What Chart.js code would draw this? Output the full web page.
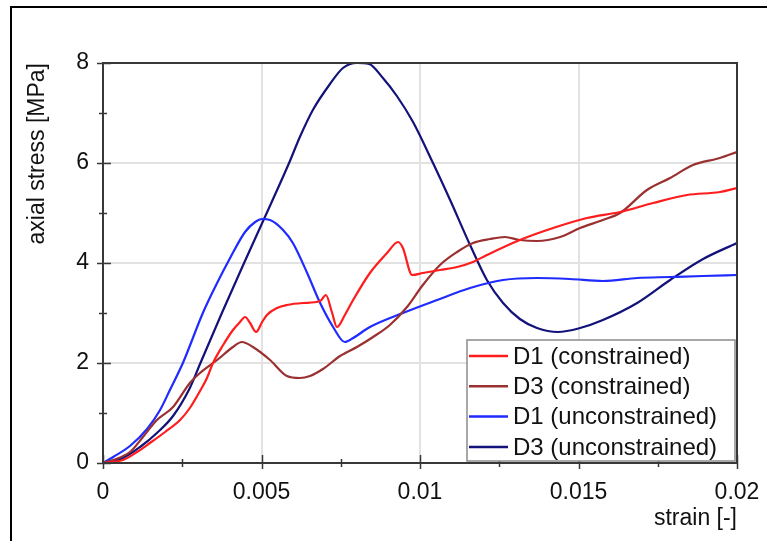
<!DOCTYPE html>
<html>
<head>
<meta charset="utf-8">
<script src="https://cdn.jsdelivr.net/npm/chart.js@4/dist/chart.umd.min.js"></script>
<style>
  html, body { margin: 0; padding: 0; background: #fff; }
  #wrap { position: relative; width: 767px; height: 541px; }
</style>
</head>
<body>
<div id="wrap"><canvas id="c" width="767" height="541"></canvas></div>
<script>
// Axis ticks
const xTicks = [0, 0.005, 0.01, 0.015, 0.02];
const yTicks = [0, 2, 4, 6, 8];

// Series names
const seriesLabels = ['D1 (constrained)', 'D3 (constrained)', 'D1 (unconstrained)', 'D3 (unconstrained)'];

// D1 (constrained): strain [-] / axial stress [MPa]
const d1ConStrain = [0, 0.00063, 0.00107, 0.00148, 0.00196, 0.00243, 0.00274, 0.00306, 0.00328, 0.00347,
  0.00379, 0.00410, 0.00432, 0.00448, 0.00464, 0.00483, 0.00502, 0.00517, 0.00549, 0.00580,
  0.00631, 0.00685, 0.00703, 0.00722, 0.00738, 0.00763, 0.00789, 0.00842, 0.00896, 0.00931,
  0.00946, 0.00975, 0.01009, 0.01063, 0.01117, 0.01167, 0.01211, 0.01315, 0.01420, 0.01527,
  0.01631, 0.01735, 0.01842, 0.01946, 0.02000];
const d1ConStress = [0, 0.06, 0.22, 0.40, 0.62, 0.86, 1.10, 1.44, 1.70, 2.00,
  2.36, 2.66, 2.82, 2.92, 2.80, 2.62, 2.82, 2.96, 3.10, 3.16,
  3.20, 3.24, 3.36, 3.02, 2.72, 2.96, 3.26, 3.80, 4.20, 4.42,
  4.30, 3.76, 3.80, 3.86, 3.92, 4.02, 4.16, 4.46, 4.70, 4.90,
  5.02, 5.20, 5.36, 5.42, 5.50];

// D3 (constrained)
const d3ConStrain = [0, 0.00032, 0.00085, 0.00126, 0.00170, 0.00221, 0.00274, 0.00306, 0.00360, 0.00410,
  0.00438, 0.00473, 0.00527, 0.00580, 0.00621, 0.00653, 0.00694, 0.00748, 0.00801, 0.00852,
  0.00905, 0.00959, 0.01009, 0.01063, 0.01117, 0.01167, 0.01221, 0.01268, 0.01315, 0.01369,
  0.01442, 0.01505, 0.01577, 0.01631, 0.01716, 0.01789, 0.01861, 0.01946, 0.02000];
const d3ConStress = [0, 0.06, 0.22, 0.52, 0.86, 1.12, 1.60, 1.80, 2.06, 2.32,
  2.42, 2.32, 2.06, 1.74, 1.70, 1.74, 1.88, 2.14, 2.32, 2.52,
  2.76, 3.12, 3.56, 3.96, 4.22, 4.40, 4.48, 4.52, 4.46, 4.44,
  4.52, 4.70, 4.86, 5.00, 5.46, 5.70, 5.96, 6.10, 6.22];

// D1 (unconstrained)
const d1UncStrain = [0, 0.00032, 0.00085, 0.00139, 0.00180, 0.00211, 0.00252, 0.00315, 0.00360, 0.00401,
  0.00448, 0.00480, 0.00502, 0.00527, 0.00568, 0.00599, 0.00644, 0.00685, 0.00726, 0.00763,
  0.00789, 0.00842, 0.00946, 0.01054, 0.01158, 0.01262, 0.01369, 0.01473, 0.01577, 0.01685,
  0.01789, 0.01893, 0.02000];
const d1UncStress = [0, 0.12, 0.34, 0.68, 1.06, 1.46, 2.00, 3.00, 3.60, 4.10,
  4.62, 4.82, 4.88, 4.86, 4.66, 4.40, 3.80, 3.20, 2.72, 2.42,
  2.50, 2.72, 3.00, 3.26, 3.50, 3.66, 3.70, 3.68, 3.64, 3.70,
  3.72, 3.74, 3.76];

// D3 (unconstrained)
const d3UncStrain = [0, 0.00063, 0.00117, 0.00170, 0.00221, 0.00274, 0.00306, 0.00375, 0.00445, 0.00505,
  0.00587, 0.00621, 0.00662, 0.00716, 0.00757, 0.00801, 0.00839, 0.00883, 0.00927, 0.00978,
  0.01041, 0.01095, 0.01158, 0.01211, 0.01262, 0.01315, 0.01369, 0.01435, 0.01505, 0.01577,
  0.01685, 0.01789, 0.01893, 0.02000];
const d3UncStress = [0, 0.10, 0.32, 0.60, 0.94, 1.50, 1.98, 3.00, 4.00, 4.84,
  6.00, 6.52, 7.06, 7.58, 7.90, 8.00, 7.98, 7.70, 7.34, 6.82,
  6.00, 5.26, 4.36, 3.66, 3.20, 2.88, 2.70, 2.62, 2.70, 2.86,
  3.20, 3.66, 4.08, 4.40];

const seriesColors = ['#ff1c1c', '#9b3030', '#1f2bff', '#12127a'];

function pairs(xs, ys) { return xs.map((v, i) => ({ x: v, y: ys[i] })); }

const seriesData = [
  pairs(d1ConStrain, d1ConStress),
  pairs(d3ConStrain, d3ConStress),
  pairs(d1UncStrain, d1UncStress),
  pairs(d3UncStrain, d3UncStress)
];

const FONT = "'Liberation Sans', Arial, sans-serif";

function fmtStrain(v) { return String(Math.round(v * 10000) / 10000); }

// Outer frame, tick marks, plot frame and the boxed legend
const decorPlugin = {
  id: 'decor',
  beforeDraw(chart) {
    const ctx = chart.ctx;
    ctx.save();
    ctx.fillStyle = '#fff';
    ctx.fillRect(0, 0, chart.width, chart.height);
    ctx.strokeStyle = '#000';
    ctx.lineWidth = 2;
    ctx.beginPath();
    ctx.moveTo(11, chart.height);
    ctx.lineTo(11, 7);
    ctx.lineTo(chart.width, 7);
    ctx.stroke();
    ctx.restore();
  },
  afterDraw(chart) {
    const { ctx, chartArea: a, scales } = chart;
    const x = scales.x, y = scales.y;
    ctx.save();
    ctx.strokeStyle = '#383838';
    ctx.lineWidth = 2;
    ctx.strokeRect(a.left, a.top, a.right - a.left, a.bottom - a.top);

    ctx.lineWidth = 1.5;
    ctx.beginPath();
    yTicks.forEach((v, i) => {
      const p = Math.round(y.getPixelForValue(v)) + 0.5;
      ctx.moveTo(a.left - 6, p); ctx.lineTo(a.left + 8, p);
      if (i < yTicks.length - 1) {
        const m = Math.round(y.getPixelForValue((v + yTicks[i + 1]) / 2)) + 0.5;
        ctx.moveTo(a.left - 4, m); ctx.lineTo(a.left + 4, m);
      }
    });
    xTicks.forEach((v, i) => {
      const p = Math.round(x.getPixelForValue(v)) + 0.5;
      ctx.moveTo(p, a.bottom - 8); ctx.lineTo(p, a.bottom + 6);
      if (i < xTicks.length - 1) {
        const m = Math.round(x.getPixelForValue((v + xTicks[i + 1]) / 2)) + 0.5;
        ctx.moveTo(m, a.bottom - 4); ctx.lineTo(m, a.bottom + 4);
      }
    });
    ctx.stroke();

    // legend box
    const w = 268, h = 121;
    const bx = a.right - 2 - w, by = a.bottom - 2 - h;
    ctx.fillStyle = '#fff';
    ctx.fillRect(bx, by, w, h);
    ctx.strokeStyle = '#8c8c8c';
    ctx.lineWidth = 1.5;
    ctx.strokeRect(bx, by, w, h);
    ctx.font = '24px ' + FONT;
    ctx.textBaseline = 'middle';
    ctx.textAlign = 'left';
    chart.data.datasets.forEach((ds, i) => {
      const ry = by + 16 + i * 30.3;
      ctx.strokeStyle = ds.borderColor;
      ctx.lineWidth = 2.5;
      ctx.beginPath();
      ctx.moveTo(bx + 2, ry); ctx.lineTo(bx + 41, ry);
      ctx.stroke();
      ctx.fillStyle = '#111';
      ctx.fillText(ds.label, bx + 46, ry + 1);
    });
    ctx.restore();
  }
};

new Chart(document.getElementById('c'), {
  type: 'scatter',
  data: {
    datasets: seriesData.map((d, i) => ({
      label: seriesLabels[i],
      data: d,
      showLine: true,
      borderColor: seriesColors[i],
      backgroundColor: seriesColors[i],
      borderWidth: 2.2,
      pointRadius: 0,
      cubicInterpolationMode: 'monotone',
      fill: false
    }))
  },
  options: {
    responsive: false,
    animation: false,
    devicePixelRatio: 1,
    layout: { padding: { left: 0, top: 63, right: 30, bottom: 0 } },
    plugins: { legend: { display: false }, tooltip: { enabled: false } },
    scales: {
      x: {
        type: 'linear',
        min: 0, max: 0.02,
        afterBuildTicks(s) { s.ticks = xTicks.map(v => ({ value: v })); },
        afterFit(s) { s.height = 78; s.paddingLeft = 0; s.paddingRight = 0; },
        grid: { color: '#e2e2e2', lineWidth: 2, drawTicks: false },
        border: { display: false },
        ticks: {
          padding: 16,
          color: '#111',
          font: { family: FONT, size: 23 },
          maxRotation: 0,
          autoSkip: false,
          callback: v => fmtStrain(v)
        },
        title: {
          display: true, text: 'strain [-]', align: 'end',
          color: '#111', font: { family: FONT, size: 23 },
          padding: { top: 0, bottom: 9 }
        }
      },
      y: {
        type: 'linear',
        min: 0, max: 8,
        afterBuildTicks(s) { s.ticks = yTicks.map(v => ({ value: v })); },
        afterFit(s) { s.width = 103; s.paddingTop = 0; s.paddingBottom = 0; },
        grid: { color: '#e2e2e2', lineWidth: 2, drawTicks: false },
        border: { display: false },
        ticks: {
          padding: 14,
          color: '#111',
          font: { family: FONT, size: 23 },
          autoSkip: false,
          callback: v => String(v)
        },
        title: {
          display: true, text: 'axial stress [MPa]', align: 'end',
          color: '#111', font: { family: FONT, size: 23 },
          padding: { top: 24, bottom: 0 }
        }
      }
    }
  },
  plugins: [decorPlugin]
});
</script>
</body>
</html>
